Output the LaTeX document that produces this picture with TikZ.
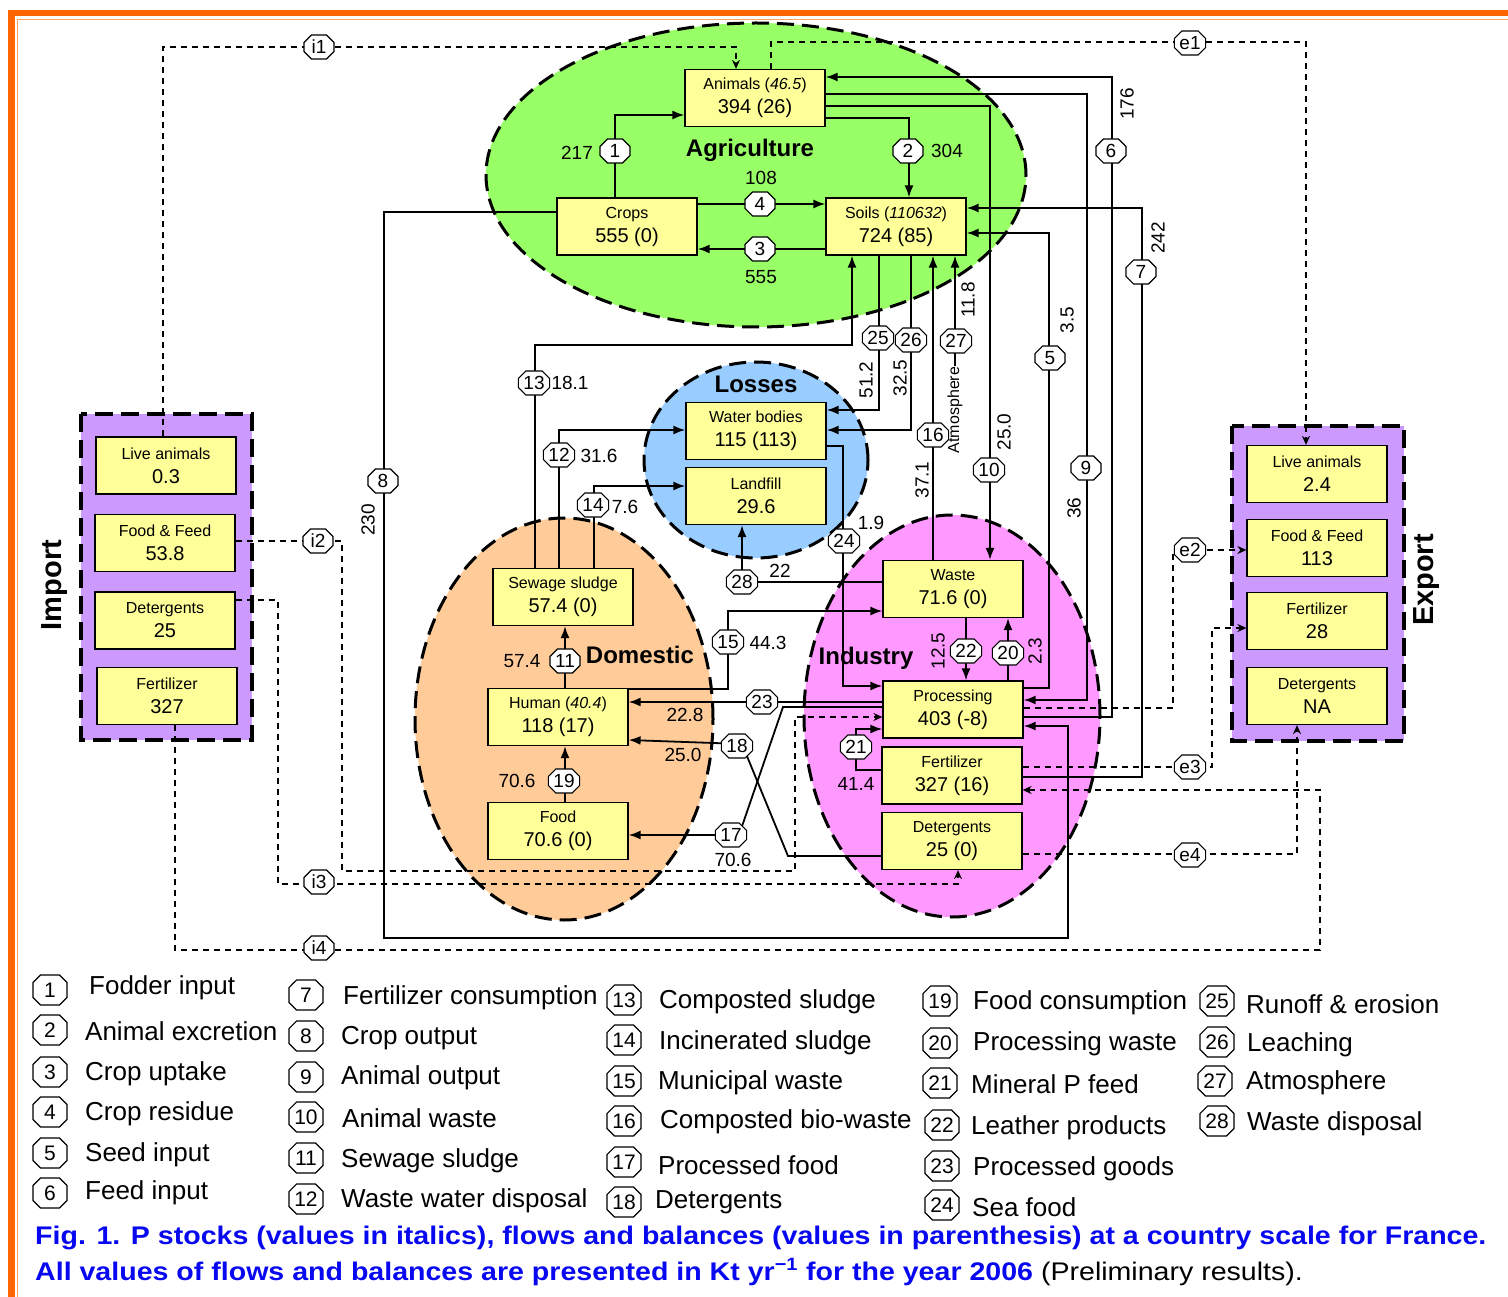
\documentclass[tikz,border=0pt]{standalone}
\usepackage{fontspec}
\setmainfont{Liberation Sans}
\usetikzlibrary{shapes.misc,arrows.meta,calc}
\definecolor{agri}{HTML}{99FF66}
\definecolor{loss}{HTML}{99CCFF}
\definecolor{dome}{HTML}{FFCC99}
\definecolor{indu}{HTML}{FF99FF}
\definecolor{impx}{HTML}{CC99FF}
\definecolor{boxy}{HTML}{FFFF99}
\definecolor{frameor}{HTML}{FF6600}
\definecolor{framelt}{HTML}{FFA060}
\definecolor{capblue}{HTML}{0808F0}
\newcommand\bxt[2]{{\fontsize{16}{16}\selectfont #1}\\{\fontsize{20}{20}\selectfont #2}}
\begin{document}
\begin{tikzpicture}[x=1pt,y=-1pt,
  box/.style={draw, fill=boxy, line width=1.2pt, minimum width=140pt, minimum height=57pt, align=center, inner sep=0pt, font=\fontsize{20}{24}\selectfont},
  flow/.style={draw, line width=1.8pt},
  arr/.style={-{Latex[length=12pt,width=9pt]}},
  dflow/.style={draw, line width=1.6pt, dash pattern=on 6pt off 5pt},
  darr/.style={-{Stealth[length=9pt,width=8pt]}},
  oct/.style={chamfered rectangle, chamfered rectangle xsep=4pt, draw, fill=white, line width=1.1pt, inner sep=1pt, minimum height=24pt, minimum width=30pt, font=\fontsize{19}{19}\selectfont},
  lab/.style={font=\fontsize{19}{19}\selectfont, inner sep=0pt},
  rlab/.style={lab, rotate=90},
  big/.style={font=\fontsize{24}{24}\selectfont\bfseries, inner sep=0pt},
  region/.style={line width=3pt, dash pattern=on 17pt off 8pt},
  ierect/.style={line width=3.5pt, dash pattern=on 18pt off 8pt},
  legoct/.style={oct, minimum width=34pt, minimum height=30pt, font=\fontsize{21}{21}\selectfont},
  legtxt/.style={anchor=west, font=\fontsize{26}{26}\selectfont, inner sep=0pt},
  captxt/.style={anchor=west, inner sep=0pt, text=capblue, font=\fontsize{25.5}{25.5}\selectfont\bfseries},
]
\useasboundingbox (0,0) rectangle (1508,1297);
% frame
\fill[frameor] (8,10) rectangle (1508,16.5);
\fill[frameor] (8,10) rectangle (14.5,1297);
\draw[framelt, line width=1.2pt] (17.5,19.5) -- (1508,19.5);
\draw[framelt, line width=1.2pt] (17.5,19.5) -- (17.5,1297);
% regions
\draw[region, fill=agri] (756,175) ellipse [x radius=270pt, y radius=152pt];
\draw[region, fill=loss] (756,460) ellipse [x radius=112pt, y radius=98pt];
\draw[region, fill=dome] (564,719) ellipse [x radius=149pt, y radius=201pt];
\draw[region, fill=indu] (952,716) ellipse [x radius=148pt, y radius=201pt];
\draw[ierect, fill=impx] (81,414) rectangle (252,740);
\draw[ierect, fill=impx] (1232,426) rectangle (1404,741);
% titles
\node[big] (tagri) at (750,150) {Agriculture};
\node[big] (tloss) at (756,384) {Losses};
\node[big] (tdome) at (640,655) {Domestic};
\node[big] (tindu) at (866,658) {Industry};
\node[font=\fontsize{29}{29}\selectfont\bfseries, rotate=90, inner sep=0pt] (timp) at (55,585) {Import};
\node[font=\fontsize{29}{29}\selectfont\bfseries, rotate=90, inner sep=0pt] (texp) at (1427,580) {Export};
% boxes
\node[box] (animals) at (755,98) {\bxt{Animals (\textit{46.5})}{394 (26)}};
\node[box] (crops) at (627,226.5) {\bxt{Crops}{555 (0)}};
\node[box] (soils) at (896,226.5) {\bxt{Soils (\textit{110632})}{724 (85)}};
\node[box] (water) at (756,431) {\bxt{Water bodies}{115 (113)}};
\node[box] (landfill) at (756,496) {\bxt{Landfill}{29.6}};
\node[box] (sewage) at (563,597) {\bxt{Sewage sludge}{57.4 (0)}};
\node[box] (human) at (558,717) {\bxt{Human (\textit{40.4})}{118 (17)}};
\node[box] (food) at (558,831) {\bxt{Food}{70.6 (0)}};
\node[box] (waste) at (953,589) {\bxt{Waste}{71.6 (0)}};
\node[box] (proc) at (953,709.5) {\bxt{Processing}{403 (-8)}};
\node[box] (fert) at (952,775.5) {\bxt{Fertilizer}{327 (16)}};
\node[box] (deter) at (952,841) {\bxt{Detergents}{25 (0)}};
\node[box] (ilive) at (166,465.5) {\bxt{Live animals}{0.3}};
\node[box] (ifood) at (165,543) {\bxt{Food \& Feed}{53.8}};
\node[box] (idet) at (165,620.5) {\bxt{Detergents}{25}};
\node[box] (ifert) at (167,696) {\bxt{Fertilizer}{327}};
\node[box] (elive) at (1317,474) {\bxt{Live animals}{2.4}};
\node[box] (efood) at (1317,548) {\bxt{Food \& Feed}{113}};
\node[box] (efert) at (1317,621) {\bxt{Fertilizer}{28}};
\node[box] (edet) at (1317,696) {\bxt{Detergents}{NA}};
\node[rotate=90, font=\fontsize{16}{16}\selectfont, inner sep=1pt] (atm) at (955,410) {Atmosphere};
% solid flows
\draw[flow,arr] (crops.north -| 615,0) |- (animals.west |- 0,115);
\draw[flow,arr] (animals.east |- 0,118) -| (soils.north -| 909,0);
\draw[flow,arr] (soils.west |- 0,249) -- (crops.east |- 0,249);
\draw[flow,arr] (crops.east |- 0,204) -- (soils.west |- 0,204);
\draw[flow,arr] (proc.east |- 0,688) -| (1049,233) -- (soils.east |- 0,233);
\draw[flow,arr] (proc.east |- 0,717) -| (1112,77) -- (animals.east |- 0,77);
\draw[flow,arr] (fert.east |- 0,777) -| (1142,208) -- (soils.east |- 0,208);
\draw[flow,arr] (crops.west |- 0,212) -| (384,938) -| (1068,726) -- (proc.east |- 0,726);
\draw[flow,arr] (animals.east |- 0,94) -| (1087,700) -- (proc.east |- 0,700);
\draw[flow,arr] (animals.east |- 0,106) -| (waste.north -| 990,0);
\draw[flow,arr] (human.north -| 565,0) -- (sewage.south -| 565,0);
\draw[flow,arr] (sewage.north -| 559,0) |- (water.west |- 0,430);
\draw[flow,arr] (sewage.north -| 535,0) |- (852,345) -- (soils.south -| 852,0);
\draw[flow,arr] (sewage.north -| 594,0) |- (landfill.west |- 0,486);
\draw[flow,arr] (human.east |- 0,689) -| (728,611) -- (waste.west |- 0,611);
\draw[flow,arr] (waste.north -| 933,0) -- (soils.south -| 933,0);
\draw[flow,arr] (proc.west |- 0,707) -- (783,707) -- (739,835) -- (food.east |- 0,835);
\draw[flow,arr] (deter.west |- 0,856) -- (788,856) -- (742,744) -- (human.east |- 0,740);
\draw[flow,arr] (food.north -| 565,0) -- (human.south -| 565,0);
\draw[flow,arr] (proc.north -| 1008,0) -- (waste.south -| 1008,0);
\draw[flow,arr] (fert.west |- 0,770) -| (856,729) -- (proc.west |- 0,729);
\draw[flow,arr] (waste.south -| 966,0) -- (proc.north -| 966,0);
\draw[flow,arr] (proc.west |- 0,702) -- (human.east |- 0,702);
\draw[flow,arr] (water.east |- 0,446) -| (843,686) -- (proc.west |- 0,686);
\draw[flow,arr] (soils.south -| 879,0) |- (water.east |- 0,410);
\draw[flow,arr] (soils.south -| 911,0) |- (water.east |- 0,430);
\draw[flow,arr] (atm.east) -- (soils.south -| 955,0);
\draw[flow,arr] (waste.west |- 0,582) -| (landfill.south -| 742,0);
% dashed trade flows
\draw[dflow,darr] (ilive.north -| 163,0) |- (736,47) -- (animals.north -| 736,0);
\draw[dflow,darr] (animals.north -| 771,0) |- (1306,42) -- (elive.north -| 1306,0);
\draw[dflow,darr] (ifood.east |- 0,541) -| (342,871) -| (795,717) -- (proc.west |- 0,717);
\draw[dflow,darr] (idet.east |- 0,600) -| (278,884) -| (deter.south -| 958,0);
\draw[dflow,darr] (ifert.south -| 175,0) |- (1320,950) |- (fert.east |- 0,790);
\draw[dflow,darr] (proc.east |- 0,708) -| (1173,550) -- (efood.west |- 0,550);
\draw[dflow,darr] (fert.east |- 0,767) -| (1212,628) -- (efert.west |- 0,628);
\draw[dflow,darr] (deter.east |- 0,854) -| (edet.south -| 1297,0);
% flow number tags
\node[oct] (o1) at (615,151) {1};
\node[oct] (o2) at (908,151) {2};
\node[oct] (o3) at (760,249) {3};
\node[oct] (o4) at (760,204) {4};
\node[oct] (o5) at (1050,358) {5};
\node[oct] (o6) at (1111,151) {6};
\node[oct] (o7) at (1141,272) {7};
\node[oct] (o8) at (383,481) {8};
\node[oct] (o9) at (1086,468) {9};
\node[oct] (o10) at (989,470) {10};
\node[oct] (o11) at (565,661) {11};
\node[oct] (o12) at (559,455) {12};
\node[oct] (o13) at (534,383) {13};
\node[oct] (o14) at (593,505) {14};
\node[oct] (o15) at (728,642) {15};
\node[oct] (o16) at (933,435) {16};
\node[oct] (o17) at (731,835) {17};
\node[oct] (o18) at (737,746) {18};
\node[oct] (o19) at (564,781) {19};
\node[oct] (o20) at (1008,653) {20};
\node[oct] (o21) at (856,747) {21};
\node[oct] (o22) at (966,651) {22};
\node[oct] (o23) at (762,702) {23};
\node[oct] (o24) at (844,541) {24};
\node[oct] (o25) at (878,338) {25};
\node[oct] (o26) at (911,340) {26};
\node[oct] (o27) at (956,341) {27};
\node[oct] (o28) at (742,582) {28};
\node[oct] (i1) at (319,47) {i1};
\node[oct] (i2) at (318,541) {i2};
\node[oct] (i3) at (319,882) {i3};
\node[oct] (i4) at (319,948) {i4};
\node[oct] (e1) at (1190,43) {e1};
\node[oct] (e2) at (1190,550) {e2};
\node[oct] (e3) at (1190,767) {e3};
\node[oct] (e4) at (1190,855) {e4};
% flow values
\node[lab] (v1) at (577,153) {217};
\node[lab] (v2) at (947,151) {304};
\node[lab] (v3) at (761,277) {555};
\node[lab] (v4) at (761,178) {108};
\node[rlab] (v5) at (1067,320) {3.5};
\node[rlab] (v6) at (1127,104) {176};
\node[rlab] (v7) at (1158,238) {242};
\node[rlab] (v8) at (368,520) {230};
\node[rlab] (v9) at (1074,508) {36};
\node[rlab] (v10) at (1004,432) {25.0};
\node[lab] (v11) at (522,661) {57.4};
\node[lab] (v12) at (599,456) {31.6};
\node[lab] (v13) at (570,383) {18.1};
\node[lab] (v14) at (625,507) {7.6};
\node[lab] (v15) at (768,643) {44.3};
\node[rlab] (v16) at (922,480) {37.1};
\node[lab] (v17) at (733,860) {70.6};
\node[lab] (v18) at (683,755) {25.0};
\node[lab] (v19) at (517,781) {70.6};
\node[rlab] (v20) at (1035,651) {2.3};
\node[lab] (v21) at (856,784) {41.4};
\node[rlab] (v22) at (938,651) {12.5};
\node[lab] (v23) at (685,715) {22.8};
\node[lab] (v24) at (871,523) {1.9};
\node[rlab] (v25) at (866,380) {51.2};
\node[rlab] (v26) at (900,378) {32.5};
\node[rlab] (v27) at (968,300) {11.8};
\node[lab] (v28) at (780,571) {22};
% legend
\foreach \n/\ox/\oy/\tx/\ty/\t in {
  1/50/990/89/988/Fodder input, 2/50/1030/85/1031/Animal excretion, 3/50/1072/85/1074/Crop uptake,
  4/50/1112/85/1114/Crop residue, 5/50/1153/85/1155/Seed input, 6/50/1193/85/1193/Feed input,
  7/306/995/343/998/Fertilizer consumption, 8/306/1036/341/1038/Crop output, 9/306/1077/341/1078/Animal output,
  10/306/1117/342/1118/Animal waste, 11/306/1158/341/1161/Sewage sludge, 12/306/1199/341/1201/Waste water disposal,
  13/624/1000/659/1002/Composted sludge, 14/624/1040/659/1043/Incinerated sludge, 15/624/1081/658/1083/Municipal waste,
  16/624/1121/660/1122/Composted bio-waste, 17/624/1162/658/1165/Processed food, 18/624/1202/655/1202/Detergents,
  19/940/1001/973/1003/Food consumption, 20/940/1043/973/1044/Processing waste, 21/940/1083/971/1084/Mineral P feed,
  22/942/1125/971/1128/Leather products, 23/942/1166/973/1169/Processed goods, 24/942/1205/972/1207/Sea food,
  25/1217/1001/1246/1004/Runoff \& erosion, 26/1217/1042/1247/1045/Leaching, 27/1215/1081/1246/1083/Atmosphere,
  28/1217/1121/1247/1124/Waste disposal}{
  \node[legoct] (lo\n) at (\ox,\oy) {\n};
  \node[legtxt] (lt\n) at (\tx,\ty) {\t};
}
% caption
\node[captxt] (cap1) at (35,1238) {\scalebox{1.12}[1]{Fig. 1. P stocks (values in italics), flows and balances (values in parenthesis) at a country scale for France.}};
\node[captxt] (cap2) at (35,1272) {\scalebox{1.12}[1]{All values of flows and balances are presented in Kt yr\textsuperscript{−1} for the year 2006 \textcolor{black}{\mdseries (Preliminary results).}}};
\end{tikzpicture}
\end{document}
